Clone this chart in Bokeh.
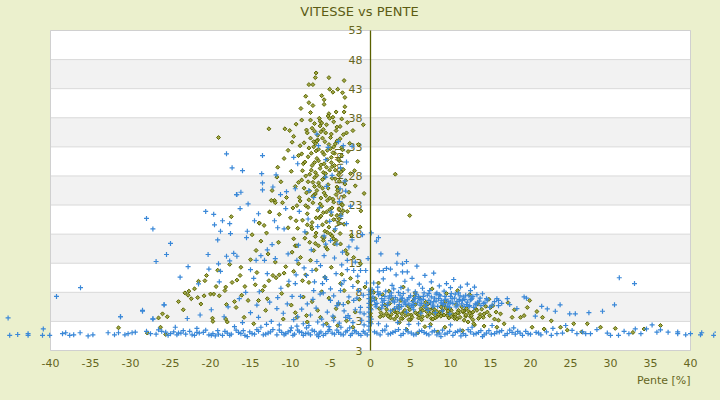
import math
from bokeh.plotting import figure
from bokeh.models import Range1d
from bokeh.core.properties import value
from bokeh.embed import file_html
from bokeh.resources import INLINE

# ---------------- data ----------------
title_text = "VITESSE vs PENTE"
x_title = "Pente [%]"
y_title = "Vitesse [km/h]"

x_ticks = [-40, -35, -30, -25, -20, -15, -10, -5, 0, 5, 10, 15, 20, 25, 30, 35, 40]
x_tick_labels = ["-40", "-35", "-30", "-25", "-20", "-15", "-10", "-5", "0", "5", "10",
                 "15", "20", "25", "30", "35", "40"]
y_ticks = [53, 48, 43, 38, 33, 28, 23, 18, 13, 8, 3, -2]
y_tick_labels = ["53", "48", "43", "38", "33", "28", "23", "18", "13", "8", "3", "3"]

# olive series (diamonds) - main cloud
olive_cloud_pente = [
    -6.8, -6.9, -5.2, -3.3, -7.7, -7.2, -5.1, -4.1, -3.5, -4.7,
    -8.1, -6.1, -5.8, -7.7, -3.2, -7.2, -5.8, -3.2, -4.3, -3.3,
    -5.2, -0.9, -12.7, -10.7, -10.1, -19.0, -2.9, -8.6, -9.3, -6.4,
    -7.0, -5.5, -4.6, -3.8, -8.0, -6.2, -4.9, -3.0, -9.6, -7.5,
    -6.6, -5.7, -4.2, -2.6, -8.8, -7.1, -5.0, -3.6, -10.3, -6.0,
    -4.5, -2.8, -9.0, -7.8, -6.7, -5.4, -3.9, -8.4, -7.3, -4.8,
    -6.3, -3.4, -9.9, -5.9, -2.5, -8.1, -7.0, -4.4, -3.1, -11.2,
    -6.5, -5.3, -9.4, -8.3, -4.0, -7.6, -2.7, -6.9, -5.6, -10.5,
    -4.7, -8.8, -7.2, -3.6, -6.1, -9.7, -5.1, -2.9, -7.9, -4.2,
    -6.4, -8.5, -5.5, -3.3, -7.4, -9.1, -4.5, -6.8, -2.4, -5.8,
    -7.3, -6.6, -5.9, -5.0, -4.3, -6.9, -6.0, -5.2, -4.6, -3.8,
    -7.7, -6.8, -5.8, -4.9, -4.0, -7.0, -6.2, -5.5, -4.4, -3.7,
    -8.5, -7.6, -6.7, -5.7, -4.8, -3.9, -7.2, -6.4, -5.3, -4.1,
    -8.0, -7.1, -6.2, -5.4, -4.6, -3.5, -7.8, -6.6, -5.9, -4.9,
    -3.9, -6.0, -7.3, -5.0, -8.2, -4.3, -6.9, -5.6, -3.1, -9.4,
    -6.3, -5.3, -7.5, -4.7, -8.7, -3.6, -9.8, -10.8, -11.6, -12.3,
    -11.0, -12.6, -13.3, -10.0, -11.7, -12.0, -11.4, -10.3, -13.9, -9.2,
    -1.6, -1.9, -1.2, -0.8, 3.1, 4.9, -2.2, -1.5, -2.0, -1.3,
    -7.9, -7.0, -6.1, -5.1, -4.2, -3.4, -7.4, -6.5, -5.6, -4.7,
    -8.2, -7.4, -6.5, -5.6, -4.5, -3.6, -8.6, -7.0, -6.0, -5.1,
    -4.2, -3.3, -8.9, -7.7, -6.7, -5.8, -4.8, -3.9, -7.3, -6.2,
    -5.2, -4.0, -8.0, -6.9, -5.9, -4.8, -3.8, -9.3, -7.6, -5.4,
]
olive_cloud_vitesse = [
    45.7, 44.9, 44.9, 44.4, 43.7, 43.7, 42.9, 42.9, 42.3, 42.4,
    41.7, 41.8, 41.1, 40.6, 41.5, 40.1, 40.3, 39.9, 39.0, 39.0,
    38.7, 36.8, 36.1, 36.1, 35.8, 34.6, 37.2, 37.6, 36.9, 37.9,
    37.0, 36.8, 37.3, 36.5, 35.9, 35.6, 35.2, 35.4, 34.8, 34.5,
    34.2, 33.9, 34.0, 33.6, 33.2, 33.0, 32.7, 32.9, 32.4, 32.1,
    31.9, 32.2, 31.5, 31.3, 31.0, 30.8, 30.6, 30.1, 29.8, 29.6,
    29.3, 29.1, 28.8, 28.6, 28.4, 28.0, 27.7, 27.5, 27.2, 27.0,
    26.8, 26.5, 26.2, 25.9, 25.7, 25.4, 25.2, 24.9, 24.6, 24.3,
    24.0, 23.7, 23.4, 23.1, 22.8, 22.5, 22.2, 21.9, 21.5, 21.2,
    20.8, 20.4, 20.1, 19.7, 19.3, 19.0, 18.6, 18.2, 17.8, 17.4,
    36.2, 35.0, 36.0, 34.6, 35.8, 33.6, 34.5, 33.4, 33.0, 34.4,
    32.8, 32.3, 31.7, 31.2, 30.9, 30.3, 29.9, 29.5, 29.0, 28.7,
    28.9, 28.3, 28.1, 27.8, 27.6, 27.1, 26.9, 26.3, 25.9, 25.5,
    25.1, 24.7, 24.2, 23.8, 23.5, 23.0, 22.6, 22.1, 21.7, 21.3,
    20.6, 19.6, 18.9, 18.0, 17.3, 16.9, 16.4, 15.8, 15.2, 16.0,
    37.4, 38.3, 38.9, 38.1, 39.6, 37.8, 33.8, 31.0, 29.5, 25.5,
    23.4, 21.8, 19.5, 20.8, 27.8, 23.8, 21.4, 19.1, 19.9, 22.9,
    30.5, 26.3, 22.0, 25.0, 28.3, 21.2, 35.8, 33.4, 28.9, 19.2,
    35.4, 35.7, 37.1, 37.9, 36.4, 35.1, 31.9, 32.6, 35.4, 32.0,
    30.4, 29.0, 30.6, 28.4, 29.8, 31.5, 27.3, 26.2, 27.4, 29.0,
    26.1, 24.5, 24.3, 23.9, 25.5, 25.1, 22.5, 22.3, 20.0, 21.1,
    19.2, 19.9, 18.2, 17.6, 16.9, 17.7, 18.1, 20.3, 16.6, 15.4,
]
olive_cloud2_pente = [
    -7.1, -6.3, -5.4, -4.4, -3.5, -8.3, -7.5, -6.7, -5.8, -4.9,
    -4.0, -3.2, -8.6, -7.8, -6.9, -6.0, -5.1, -4.3, -3.4, -9.0,
    -8.1, -7.2, -6.3, -5.5, -4.6, -3.7, -7.9, -6.8, -5.7, -4.5,
]
olive_cloud2_vitesse = [
    33.9, 36.6, 32.4, 33.5, 32.5, 33.7, 37.6, 34.0, 30.1, 30.3,
    28.2, 26.6, 31.8, 27.0, 28.6, 25.9, 24.2, 24.8, 22.0, 26.9,
    22.9, 24.5, 23.2, 21.8, 20.5, 21.4, 19.6, 20.8, 18.5, 16.3,
]

# olive series - low spread on negative slopes
olive_low_pente = [
    -17.4, -13.9, -12.6, -11.9, -12.4, -22.7, -22.8, -22.4, -21.6, -20.8,
    -20.0, -19.6, -18.9, -18.1, -18.2, -17.3, -16.7, -16.3, -20.5, -20.7,
    -21.2, -19.75, -19.7, -18.1, -17.9, -18.0, -16.8, -17.0, -16.1, -15.3,
    -15.7, -14.4, -14.2, -13.5, -13.25, -12.7, -12.2, -11.8, -11.4, -10.8,
    -10.3, -9.6, -8.5, -7.7, -13.1, -14.0, -14.6, -15.8, -25.4, -26.5,
    -26.25, -25.6, -11.5, -9.6, -9.2, -9.8, -8.75, -7.5, -7.1, -6.5,
    -6.0, -5.4, -4.6, -3.75, -2.9, -2.1, -1.25, -3.75, -3.3, -4.0,
    -4.6, -6.25, -7.9, -9.2, -31.5, -27.9, -26.0, -23.4, -22.0, -19.3,
    -11.9, -10.6, -9.0, -8.1, -6.8, -5.7, -4.9, -3.6, -2.5, -1.6,
    -12.9, -11.1, -9.9, -8.4, -7.3, -6.1, -5.2, -4.3, -2.8, -1.9,
    -10.9, -9.4, -8.0, -6.6, -5.5, -4.1, -3.0, -2.2, -1.4, -0.7,
    -16.2, -15.0, -14.3, -13.7, -12.8, -17.6, -19.1, -21.5, -23.2, -24.0,
    0.0, 0.0, 0.0, 0.0, 0.0, 0.0, 0.0, 0.0, -14.8, -13.0,
]
olive_low_vitesse = [
    21.0, 19.9, 21.8, 23.4, 23.8, 8.2, 7.5, 6.9, 7.1, 7.4,
    7.7, 7.7, 7.4, 8.9, 8.3, 9.7, 10.1, 10.9, 10.9, 10.0,
    6.0, 3.55, 3.0, 3.4, 2.9, 5.9, 5.4, 6.4, 7.5, 6.6,
    9.0, 9.3, 11.4, 8.3, 9.05, 10.0, 10.9, 10.5, 11.0, 11.3,
    9.2, 11.6, 10.0, 9.7, 4.9, 6.6, 2.6, 3.7, 3.8, 3.6,
    2.0, 0.75, 16.6, 17.2, 16.0, 14.9, 14.0, 13.5, 15.2, 16.0,
    17.5, 18.3, 17.2, 16.3, 14.6, 14.0, 12.9, 9.5, 8.3, 6.0,
    3.7, 3.7, 2.9, 3.7, 1.9, 1.0, 4.3, 5.0, 8.6, 9.0,
    13.2, 12.4, 12.9, 11.0, 11.9, 10.6, 12.3, 11.1, 10.4, 9.8,
    6.9, 7.8, 5.8, 7.2, 6.4, 8.1, 7.0, 5.2, 6.3, 4.6,
    3.4, 4.5, 4.0, 4.9, 2.6, 2.3, 3.1, 2.0, 6.8, 8.9,
    12.3, 13.6, 15.2, 16.8, 14.6, 12.8, 11.8, 9.9, 7.9, 6.4,
    5.2, 5.8, 6.4, 7.0, 4.4, 3.8, 8.1, 2.9, 17.9, 18.2,
]

# olive series - positive slopes
olive_pos_pente = [
    0.6, 1.1, 1.5, 2.0, 2.4, 2.9, 3.3, 3.8, 4.2, 4.7,
    5.1, 5.6, 6.0, 6.5, 6.9, 7.4, 7.8, 8.3, 8.7, 9.2,
    9.6, 10.1, 10.5, 11.0, 11.4, 11.9, 12.3, 12.8, 13.2, 13.7,
    14.1, 14.6, 15.0, 15.5, 1.8, 2.6, 3.5, 4.4, 5.3, 6.2,
    7.1, 8.0, 8.9, 9.8, 10.7, 11.6, 12.5, 13.4, 3.1, 4.0,
    4.9, 5.8, 6.7, 7.6, 8.5, 9.4, 10.3, 11.2, 2.2, 5.5,
    6.4, 7.2, 8.1, 9.0, 9.9, 10.8, 11.7, 12.6, 13.5, 14.4,
    1.3, 2.7, 3.9, 5.0, 6.1, 7.0, 7.9, 8.8, 9.7, 10.6,
    4.5, 6.8, 8.4, 3.6, 5.9, 7.5, 9.3, 11.5, 12.2, 13.0,
    1.0, 2.3, 4.1, 5.6, 7.7, 9.5, 10.9, 12.4, 0.4, 14.8,
    16.7, 18.75, 19.2, 19.6, 17.7, 16.25, 15.8, 20.2, 21.7, 21.5,
    23.75, 25.4, 28.75, 34.2, 36.25, 12.9, 11.7, 27.1, 22.6, 24.6,
    18.0, 20.8, 17.2, 15.3, 26.4, 30.6, 32.8, 19.9, 16.0, 14.2,
]
olive_pos_vitesse = [
    6.9, 5.2, 7.6, 4.4, 6.1, 5.0, 3.9, 6.6, 4.7, 5.6,
    4.1, 5.9, 3.6, 4.9, 6.3, 4.3, 5.3, 3.8, 4.6, 5.8,
    4.0, 4.9, 3.5, 4.4, 5.5, 3.9, 4.7, 3.3, 5.1, 4.2,
    3.7, 4.6, 5.4, 3.4, 5.8, 4.2, 5.4, 4.0, 6.5, 4.6,
    3.9, 5.0, 4.4, 3.6, 5.9, 4.6, 3.8, 6.0, 4.6, 3.5,
    5.0, 4.3, 5.6, 3.5, 4.2, 6.4, 4.2, 3.7, 3.9, 7.3,
    3.3, 6.0, 3.6, 4.9, 5.2, 3.4, 4.8, 4.0, 3.5, 5.6,
    4.5, 6.8, 4.3, 3.3, 7.0, 5.3, 4.6, 5.5, 4.5, 3.8,
    1.6, 2.1, 1.2, 2.8, 1.0, 2.5, 2.0, 1.4, 2.9, 2.4,
    9.6, 8.2, 8.9, 7.9, 8.6, 7.8, 8.3, 7.6, 8.0, 6.8,
    2.6, 3.7, 4.0, 5.4, 3.7, 4.3, 2.0, 2.0, 1.7, 3.7,
    2.0, 2.6, 2.0, 1.7, 2.3, 2.6, 3.2, 2.6, 3.1, 1.5,
    5.0, 4.7, 6.2, 5.7, 1.2, 1.8, 1.1, 6.6, 3.2, 2.2,
]
olive_pos2_pente = [
    1.6, 2.5, 3.4, 4.3, 5.2, 6.1, 7.0, 7.9, 8.8, 9.7,
    10.6, 11.5, 12.4, 13.3, 14.2, 2.0, 2.9, 3.8, 4.7, 5.6,
    6.5, 7.4, 8.3, 9.2, 10.1, 11.0, 11.9, 12.8, 13.7, 1.2,
    3.0, 4.8, 6.3, 7.8, 9.4, 10.9, 12.0, 13.9, 14.9, 15.7,
]
olive_pos2_vitesse = [
    4.0, 3.6, 4.5, 4.9, 3.7, 4.1, 4.7, 4.3, 3.9, 4.8,
    4.2, 4.8, 4.4, 4.9, 4.3, 5.1, 4.8, 3.5, 4.2, 4.5,
    3.8, 5.0, 4.7, 4.1, 3.9, 4.9, 4.1, 4.6, 3.8, 3.8,
    3.4, 3.3, 5.2, 3.4, 5.3, 4.5, 5.2, 5.1, 4.0, 4.6,
]

# blue series (crosses) - bottom band, negative side and far left
blue_floor_neg_pente = [
    -45.3, -45.1, -44.1, -42.8, -42.8, -41.0, -40.9, -40.1, -39.25, -36.25,
    -38.5, -38.1, -37.6, -37.1, -36.3, -35.3, -34.7, -32.8, -32.0, -31.5,
    -31.25, -30.7, -30.3, -29.8, -29.4, -28.5, -28.0, -27.5, -27.2, -26.5,
    -25.8, -25.6, -25.0, -24.6, -24.2, -23.7, -23.1, -22.6, -22.0, -21.4,
    -20.9, -20.2, -19.7, -19.1, -18.5, -17.9, -17.4, -16.8, -16.2, -15.7,
    -15.1, -14.5, -14.0, -13.4, -12.8, -12.2, -11.7, -11.1, -10.6, -10.0,
    -9.5, -8.9, -8.4, -7.8, -7.3, -6.7, -6.2, -5.6, -5.1, -4.5,
    -4.0, -3.4, -2.9, -2.3, -1.8, -1.2, -0.7, -13.7, -9.2, -5.9,
    -21.7, -17.0, -11.4, -8.0, -3.7, -24.4, -19.4, -15.4, -6.5, -2.6,
]
blue_floor_neg_vitesse = [
    3.6, 0.6, 0.75, 0.9, 0.6, 0.6, 1.7, 0.6, 7.3, 8.8,
    0.9, 1.05, 0.6, 0.7, 1.05, 0.5, 0.7, 1.05, 0.7, 1.05,
    3.8, 0.7, 0.9, 1.05, 1.15, 4.75, 1.3, 0.9, 3.4, 1.55,
    5.85, 1.15, 0.9, 1.2, 0.7, 1.0, 0.8, 1.3, 0.6, 1.0,
    1.1, 0.7, 0.9, 1.4, 0.6, 1.0, 0.8, 1.5, 0.9, 0.6,
    1.2, 0.8, 1.3, 0.7, 1.0, 1.6, 0.7, 1.1, 0.9, 1.4,
    0.8, 1.2, 0.6, 1.0, 1.5, 0.7, 1.2, 0.9, 1.6, 0.8,
    1.1, 0.7, 1.4, 0.9, 1.2, 0.6, 1.0, 2.0, 2.2, 2.4,
    1.8, 2.1, 2.4, 1.9, 2.0, 2.0, 0.5, 0.4, 0.4, 1.9,
]
blue_floor2_pente = [
    -26.8, -26.1, -25.3, -24.0, -23.4, -22.3, -21.7, -20.6, -19.9, -19.0,
    -18.2, -17.6, -16.5, -15.9, -14.8, -14.2, -13.1, -12.5, -11.4, -10.8,
    -10.3, -9.7, -9.1, -8.6, -8.1, -7.5, -7.0, -6.4, -5.9, -5.3,
    -4.8, -4.2, -3.7, -3.1, -2.5, -2.0, -1.5, -0.9, -0.4, 0.8,
    1.5, 2.2, 2.8, 3.5, 4.1, 4.7, 5.4, 6.1, 6.7, 7.3,
    8.0, 8.6, 9.3, 9.9, 10.6, 11.2, 11.9, 12.5, 13.2, 13.8,
    14.5, 15.1, 15.8, 16.4, 17.1, 17.7, 18.4, 19.0, 19.7, 21.0,
]
blue_floor2_vitesse = [
    0.8, 1.3, 0.6, 1.0, 1.4, 0.7, 1.1, 1.5, 0.6, 0.8,
    1.3, 0.6, 1.1, 1.4, 0.9, 1.6, 0.8, 1.2, 1.5, 0.7,
    1.2, 0.6, 1.5, 1.1, 0.9, 0.7, 1.3, 1.0, 0.6, 1.3,
    1.0, 1.5, 0.8, 1.2, 0.6, 1.4, 0.9, 1.3, 0.7, 1.0,
    1.4, 0.8, 1.1, 1.6, 0.9, 1.2, 0.7, 1.3, 1.1, 0.7,
    1.4, 1.0, 0.8, 1.3, 1.1, 1.5, 0.6, 1.2, 0.9, 1.4,
    1.0, 0.8, 1.2, 1.4, 0.9, 1.1, 1.3, 0.6, 0.9, 1.0,
]

# blue - bottom band and sparse points, positive side
blue_floor_pos_pente = [
    0.5, 1.2, 1.8, 2.5, 3.1, 3.8, 4.4, 5.1, 5.7, 6.4,
    7.0, 7.7, 8.3, 9.0, 9.6, 10.3, 10.9, 11.6, 12.2, 12.9,
    13.5, 14.2, 14.8, 15.5, 16.1, 16.8, 17.4, 18.1, 18.7, 19.4,
    20.0, 20.7, 21.3, 22.0, 22.6, 23.3, 24.0, 2.0, 4.8, 7.4,
    10.0, 12.7, 15.2, 17.9, 6.0, 8.8, 11.3, 14.0, 3.4, 1.0,
    42.9, 43.3, 41.25, 41.4, 40.0, 39.4, 38.4, 38.4, 37.2, 36.25,
    35.8, 35.2, 34.5, 33.8, 33.1, 33.0, 32.3, 31.7, 31.0, 30.5,
    30.0, 29.6, 29.0, 27.5, 27.3, 26.9, 25.8, 25.6, 24.9, 25.2,
    23.7, 23.1, 22.1, 19.2, 19.5, 17.1, 15.8, 16.0, 14.0, 12.5,
    11.25, 10.0, 21.4, 20.6, 18.3, 28.3, 24.4, 26.5, 22.8, 31.1,
]
blue_floor_pos_vitesse = [
    1.2, 0.7, 1.5, 0.9, 1.3, 0.6, 1.6, 1.0, 0.8, 1.4,
    0.9, 1.2, 0.7, 1.5, 1.0, 0.6, 1.3, 0.9, 1.6, 0.8,
    1.1, 0.7, 1.4, 0.9, 1.2, 0.6, 1.5, 0.8, 1.0, 1.3,
    0.8, 1.1, 0.7, 1.2, 0.6, 0.9, 1.0, 2.2, 2.5, 2.1,
    2.4, 2.0, 2.3, 1.9, 2.6, 0.4, 0.5, 0.4, 2.8, 2.6,
    0.6, 1.15, 0.7, 1.05, 0.9, 0.7, 0.9, 1.2, 1.15, 1.55,
    1.15, 2.4, 1.7, 0.9, 1.7, 9.5, 0.9, 1.3, 0.6, 5.85,
    0.6, 1.0, 4.75, 0.9, 4.5, 0.9, 0.9, 4.3, 4.3, 1.45,
    5.85, 4.75, 5.15, 7.2, 7.0, 6.9, 6.9, 5.7, 7.75, 8.3,
    8.9, 8.8, 5.6, 3.9, 5.2, 1.6, 2.3, 1.2, 1.8, 10.5,
]

# blue - dense cluster on gentle positive slopes
blue_cluster_pente = [
    0.3, 0.8, 1.2, 1.7, 2.1, 2.6, 3.0, 3.5, 3.9, 4.4,
    4.8, 5.3, 5.7, 6.2, 6.6, 7.1, 7.5, 8.0, 8.4, 8.9,
    9.3, 9.8, 10.2, 10.7, 11.1, 11.6, 12.0, 12.5, 12.9, 13.4,
    0.5, 1.0, 1.5, 2.3, 2.8, 3.3, 3.7, 4.2, 4.6, 5.1,
    5.5, 6.0, 6.4, 6.9, 7.3, 7.8, 8.2, 8.7, 9.1, 9.6,
    10.0, 10.5, 10.9, 11.4, 11.8, 12.3, 13.1, 13.8, 14.3, 14.9,
    0.2, 0.9, 1.9, 2.9, 3.8, 4.7, 5.6, 6.5, 7.4, 8.3,
    9.2, 10.1, 11.0, 11.9, 12.8, 13.7, 14.6, 15.5, 16.4, 17.4,
    1.4, 2.5, 3.6, 4.5, 5.4, 6.3, 7.2, 8.1, 9.0, 9.9,
    0.4, 1.6, 2.7, 3.2, 4.3, 5.2, 6.1, 7.6, 8.6, 9.5,
    2.0, 3.3, 4.6, 6.8, 1.1, 5.8, 7.9, 10.4, 12.1, 13.0,
    1.0, 0.75, 3.4, 1.3, 4.5, 4.0, 1.6, 2.5, 4.0, 0.1,
    -0.2, -0.2, -0.2, -0.2, -0.2, -0.2, -0.2, -0.2, -0.2, -0.2,
    0.1, 0.1, 0.1, 0.1, 0.1,
]
blue_cluster_vitesse = [
    7.2, 6.1, 7.8, 6.6, 5.7, 7.4, 6.3, 8.0, 6.9, 5.9,
    7.1, 6.4, 7.7, 5.8, 6.8, 7.5, 6.2, 7.0, 5.6, 6.6,
    7.3, 6.0, 6.9, 5.5, 6.5, 7.2, 5.9, 6.7, 5.4, 6.3,
    6.6, 7.6, 5.8, 7.0, 6.5, 5.5, 7.5, 6.2, 6.7, 5.7,
    6.9, 7.3, 6.1, 5.4, 7.8, 5.8, 6.5, 7.4, 6.1, 5.6,
    6.3, 7.0, 5.8, 6.0, 6.8, 5.6, 6.0, 5.7, 6.2, 5.4,
    8.5, 8.9, 8.2, 8.6, 8.8, 8.4, 8.1, 8.7, 8.3, 7.9,
    8.2, 7.8, 7.9, 7.5, 7.3, 7.0, 6.7, 6.4, 6.1, 5.9,
    5.3, 4.8, 5.1, 4.6, 5.0, 4.4, 4.9, 4.5, 4.8, 4.3,
    9.6, 10.3, 9.2, 11.0, 9.9, 10.4, 9.4, 9.8, 9.1, 9.5,
    12.1, 13.0, 11.5, 10.9, 11.7, 12.5, 11.3, 10.2, 9.4, 8.9,
    17.4, 16.8, 14.6, 14.6, 13.3, 12.9, 11.75, 12.0, 11.5, 18.2,
    8.4, 7.6, 6.9, 6.1, 5.4, 4.6, 3.8, 3.0, 2.2, 1.5,
    7.9, 6.5, 5.0, 3.4, 2.6,
]
blue_cluster2_pente = [
    0.7, 1.4, 2.2, 3.1, 3.9, 4.8, 5.6, 6.3, 7.0, 7.9,
    8.6, 9.4, 10.3, 11.2, 12.1, 12.7, 13.6, 14.5, 15.2, 16.0,
    0.9, 1.8, 2.6, 3.4, 4.1, 5.0, 5.9, 6.7, 7.6, 8.5,
    9.7, 10.6, 11.5, 12.4, 13.3, 14.1, 0.6, 1.5, 2.4, 3.6,
    4.3, 5.2, 6.1, 7.3, 8.2, 9.1, 10.0, 10.8, 11.7, 12.6,
    3.0, 4.0, 5.4, 6.6, 7.8, 8.8, 9.9, 11.1, 12.3, 13.2,
]
blue_cluster2_vitesse = [
    5.5, 6.9, 6.2, 7.1, 5.6, 6.0, 7.0, 6.7, 5.9, 6.4,
    7.6, 6.8, 6.1, 7.4, 6.3, 7.0, 6.5, 6.9, 5.8, 6.6,
    8.1, 7.3, 7.9, 6.7, 7.8, 7.4, 6.3, 7.9, 7.2, 6.9,
    6.5, 7.7, 6.6, 5.7, 7.6, 6.1, 5.9, 6.3, 7.4, 5.9,
    6.5, 5.4, 6.9, 6.6, 7.7, 5.9, 7.3, 6.4, 5.6, 6.8,
    5.2, 7.0, 5.9, 7.3, 5.5, 6.2, 5.4, 6.8, 7.4, 5.9,
]

# blue - scattered points on negative slopes
blue_spread_pente = [
    -18.0, -17.3, -16.0, -13.5, -13.6, -13.5, -13.5, -11.8, -12.2, -16.75,
    -16.2, -11.25, -10.5, -9.6, -9.1, -6.7, -6.5, -5.3, -4.0, -3.4,
    -2.3, -5.6, -3.0, -3.75, -4.8, -5.6, -3.2, -9.4, -7.7, -5.5,
    -3.8, -7.1, -3.1, -16.7, -15.3, -16.3, -19.6, -18.5, -19.5, -17.6,
    -18.75, -19.1, -17.5, -15.4, -15.5, -14.0, -14.5, -27.2, -25.5, -26.8,
    -20.3, -19.0, -18.0, -17.6, -17.1, -16.7, -18.75, -15.0, -14.3, -13.7,
    -13.25, -12.9, -12.3, -11.9, -11.6, -10.8, -10.3, -9.2, -8.3, -7.3,
    -6.25, -5.8, -5.6, -5.0, -4.2, -3.5, -2.9, -2.1, -1.25, -0.6,
    -0.3, -28.5, -27.2, -25.8, -21.5, -18.3, -14.0, -11.7, -10.4, -9.8,
    -8.75, -7.9, -7.1, -6.0, -5.0, -4.2, -3.75, -3.3, -2.7, -2.1,
    -1.5, -1.25, -0.8, -3.1, -4.6, -28.0, -31.25, -22.8, -20.6, -12.4,
    -7.5, -6.8, -6.1, -5.4, -4.7, -4.0, -3.3, -2.6, -1.9, -1.1,
    -7.0, -6.3, -5.7, -5.0, -4.3, -3.6, -2.9, -2.2, -1.6, -0.9,
    -9.0, -8.2, -7.4, -6.6, -5.8, -5.1, -4.4, -3.7, -3.0, -2.3,
    -1.7, -1.0, -2.5, -3.9, -4.9, -6.4, -7.8, -8.9, -10.6, -12.0,
    -9.6, -10.9, -12.6, -13.9, -15.0, -16.4, -17.8, -19.9, -21.3, -22.9,
    -8.4, -9.4, -11.2, -13.0, -14.6, -16.0, -18.9, -20.2, -23.8, -25.0,
]
blue_spread_vitesse = [
    31.8, 29.4, 28.9, 31.5, 28.4, 26.8, 25.6, 28.2, 26.1, 24.8,
    25.2, 24.8, 25.3, 31.2, 30.1, 35.2, 33.2, 32.9, 33.9, 33.2,
    33.1, 30.8, 30.4, 29.4, 28.1, 27.8, 27.1, 25.8, 25.5, 26.2,
    25.8, 24.3, 25.4, 24.8, 23.2, 22.4, 21.4, 20.3, 19.6, 19.8,
    18.5, 17.0, 18.1, 18.5, 17.4, 21.5, 20.3, 18.9, 14.5, 13.3,
    14.5, 12.9, 14.2, 13.4, 14.7, 14.2, 11.6, 11.9, 13.5, 14.3,
    13.5, 15.3, 16.2, 13.8, 19.1, 18.9, 14.6, 13.5, 12.2, 11.75,
    12.6, 14.3, 16.3, 16.9, 16.3, 14.9, 13.5, 11.75, 11.75, 11.75,
    13.8, 4.9, 3.45, 5.85, 9.45, 3.8, 3.7, 5.2, 6.0, 7.3,
    7.3, 6.0, 8.3, 9.5, 6.6, 5.7, 8.3, 10.0, 7.2, 6.6,
    8.3, 5.4, 4.3, 3.7, 3.2, 20.7, 3.8, 12.4, 21.9, 3.0,
    4.1, 5.3, 3.4, 4.6, 3.9, 6.2, 4.8, 3.5, 5.0, 3.2,
    9.8, 7.7, 10.6, 8.6, 11.2, 9.4, 11.9, 9.0, 10.8, 7.5,
    16.1, 18.4, 15.3, 19.3, 17.7, 20.2, 18.9, 21.1, 19.8, 17.0,
    15.6, 17.9, 22.8, 23.6, 21.8, 22.5, 20.6, 21.9, 22.4, 20.3,
    3.3, 4.4, 6.3, 8.1, 4.5, 6.9, 5.5, 5.0, 4.1, 3.5,
    2.6, 9.5, 8.7, 2.5, 10.4, 2.8, 9.8, 12.0, 10.6, 16.4,
]
blue_spread2_pente = [
    -9.9, -9.1, -8.6, -7.7, -7.2, -6.6, -5.9, -5.2, -4.6, -3.9,
    -3.4, -2.8, -2.2, -1.7, -1.3, -0.8, -0.5, -1.9, -2.7, -3.6,
    -4.5, -5.5, -6.7, -8.0, -9.3, -10.2, -11.6, -12.9, -14.2, -15.6,
]
blue_spread2_vitesse = [
    1.9, 3.8, 5.1, 2.3, 6.8, 2.9, 7.9, 2.1, 7.4, 2.7,
    5.9, 4.0, 2.8, 7.0, 4.6, 2.4, 9.6, 13.2, 15.8, 12.7,
    13.9, 10.2, 13.3, 10.9, 11.0, 9.9, 7.1, 11.2, 5.8, 8.0,
]

# ---------------- assemble ----------------
olive_pente = (olive_cloud_pente + olive_cloud2_pente + olive_low_pente
               + olive_pos_pente + olive_pos2_pente)
olive_vitesse = (olive_cloud_vitesse + olive_cloud2_vitesse + olive_low_vitesse
                 + olive_pos_vitesse + olive_pos2_vitesse)
blue_pente = (blue_floor_neg_pente + blue_floor2_pente + blue_floor_pos_pente
              + blue_cluster_pente + blue_cluster2_pente + blue_spread_pente + blue_spread2_pente)
blue_vitesse = (blue_floor_neg_vitesse + blue_floor2_vitesse + blue_floor_pos_vitesse
                + blue_cluster_vitesse + blue_cluster2_vitesse + blue_spread_vitesse
                + blue_spread2_vitesse)
n_o = min(len(olive_pente), len(olive_vitesse))
n_b = min(len(blue_pente), len(blue_vitesse))
olive_pente, olive_vitesse = olive_pente[:n_o], olive_vitesse[:n_o]
blue_pente, blue_vitesse = blue_pente[:n_b], blue_vitesse[:n_b]

# ---------------- style ----------------
PAGE_BG = "#EBF0CD"
TEXT_C = "#66661E"
AXIS_C = "#5A6000"
GRID_C = "#D9D9D9"
BAND_C = "#F2F2F2"
BLUE_C = "#3A88D8"
OLIVE_C = "#5A6400"
OLIVE_FILL = "#A2A848"
FONT = value("DejaVu Sans")

x_lo, x_hi = x_ticks[0], x_ticks[-1]
y_top, y_bot = y_ticks[0], y_ticks[-1]

# page pixel (0..716, 0..396) -> data: x = (px - 370) / 8 ; y = 53 - (py - 30) / 5.81818
p = figure(width=716, height=396, output_backend="svg", toolbar_location=None, tools="",
           x_range=Range1d(-46.25, 43.25), y_range=Range1d(-9.906, 58.156),
           x_axis_location=None, y_axis_location=None, min_border=0, title=None)
p.background_fill_color = PAGE_BG
p.border_fill_color = PAGE_BG
p.outline_line_color = None
p.xgrid.visible = False
p.ygrid.visible = False

# plot area and alternating bands
p.quad(left=[x_lo], right=[x_hi], bottom=[y_bot], top=[y_top], fill_color="white", line_color=None)
band_tops = [y_ticks[i] for i in range(1, len(y_ticks) - 1, 2)]
band_bots = [y_ticks[i + 1] for i in range(1, len(y_ticks) - 1, 2)]
p.quad(left=x_lo, right=x_hi, bottom=band_bots, top=band_tops, fill_color=BAND_C, line_color=None)
p.segment(x0=x_lo, x1=x_hi, y0=y_ticks, y1=y_ticks, line_color=GRID_C, line_width=1)
p.quad(left=[x_lo], right=[x_hi], bottom=[y_bot], top=[y_top], fill_color=None,
       line_color="#D0D0D0", line_width=1)

# axis titles and labels
p.text(x=[-3.9], y=[26.0], text=[y_title], angle=math.pi / 2, text_align="center",
       text_baseline="middle", text_font=FONT, text_font_size="11px", text_color=TEXT_C)
p.text(x=[-1.0] * len(y_ticks), y=y_ticks, text=y_tick_labels, text_align="right",
       text_baseline="middle", text_font=FONT, text_font_size="11px", text_color=TEXT_C)
p.text(x=x_ticks, y=[-4.23] * len(x_ticks), text=x_tick_labels, text_align="center",
       text_baseline="middle", text_font=FONT, text_font_size="11px", text_color=TEXT_C)
p.text(x=[x_hi], y=[-7.16], text=[x_title], text_align="right", text_baseline="middle",
       text_font=FONT, text_font_size="11px", text_color=TEXT_C)
p.text(x=[-1.375], y=[56.3], text=[title_text], text_align="center", text_baseline="middle",
       text_font=FONT, text_font_size="13px", text_color="#5C5C14")

# data
p.scatter(x=olive_pente, y=olive_vitesse, marker="square", angle=math.pi / 4, size=2.8,
          line_color=OLIVE_C, fill_color=OLIVE_FILL, line_width=1)
p.scatter(x=blue_pente, y=blue_vitesse, marker="cross", size=5.0,
          line_color=BLUE_C, line_width=1.2)

# vertical value axis at x = 0
p.segment(x0=[0], x1=[0], y0=[y_bot], y1=[y_top], line_color=AXIS_C, line_width=1.3)

html = file_html(p, INLINE, title=title_text)
html = html.replace("</head>", "<style>html, body {background-color: #EBF0CD;}</style></head>", 1)
open("out.html", "w").write(html)
